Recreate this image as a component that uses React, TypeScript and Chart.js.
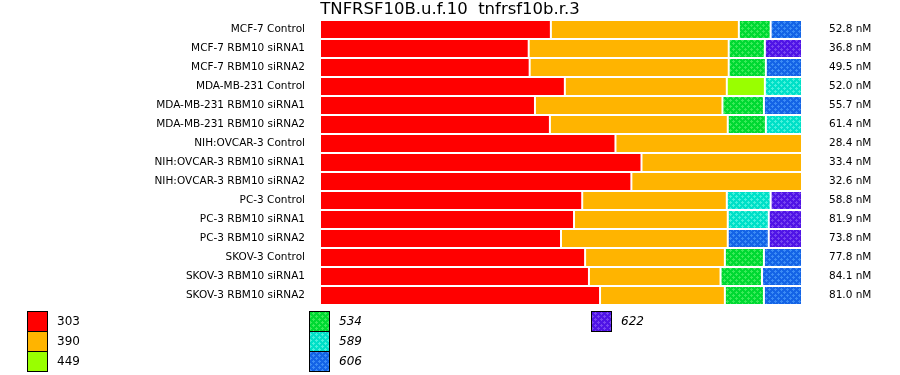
import React, { useEffect, useRef } from 'react';
import { Chart, registerables } from 'chart.js';
Chart.register(...registerables);

const chartTitle = 'TNFRSF10B.u.f.10  tnfrsf10b.r.3';

const samples = [
  'MCF-7 Control',
  'MCF-7 RBM10 siRNA1',
  'MCF-7 RBM10 siRNA2',
  'MDA-MB-231 Control',
  'MDA-MB-231 RBM10 siRNA1',
  'MDA-MB-231 RBM10 siRNA2',
  'NIH:OVCAR-3 Control',
  'NIH:OVCAR-3 RBM10 siRNA1',
  'NIH:OVCAR-3 RBM10 siRNA2',
  'PC-3 Control',
  'PC-3 RBM10 siRNA1',
  'PC-3 RBM10 siRNA2',
  'SKOV-3 Control',
  'SKOV-3 RBM10 siRNA1',
  'SKOV-3 RBM10 siRNA2',
];

const concentrations = [
  '52.8 nM', '36.8 nM', '49.5 nM', '52.0 nM', '55.7 nM', '61.4 nM', '28.4 nM',
  '33.4 nM', '32.6 nM', '58.8 nM', '81.9 nM', '73.8 nM', '77.8 nM', '84.1 nM', '81.0 nM',
];

const seriesNames = ['303', '390', '449', '534', '589', '606', '622'];

const s303 = [47.9, 43.3, 43.5, 50.8, 44.6, 47.7, 61.3, 66.7, 64.6, 54.4, 52.7, 50.0, 55.0, 55.8, 58.1];
const s390 = [39.0, 41.5, 41.3, 33.6, 38.9, 36.9, 38.7, 33.3, 35.4, 30.0, 31.9, 34.6, 29.0, 27.3, 25.9];
const s449 = [null, null, null, 7.9, null, null, null, null, null, null, null, null, null, null, null];
const s534 = [6.6, 7.5, 7.7, null, 8.6, 7.9, null, null, null, null, null, null, 8.1, 8.6, 8.1];
const s589 = [null, null, null, 7.7, null, 7.5, null, null, null, 9.1, 8.5, null, null, null, null];
const s606 = [6.5, null, 7.5, null, 7.9, null, null, null, null, null, null, 8.5, 7.9, 8.3, 7.9];
const s622 = [null, 7.7, null, null, null, null, null, null, null, 6.5, 6.9, 6.9, null, null, null];

const seriesValues = [s303, s390, s449, s534, s589, s606, s622];

// base colour, dot colour (null = solid), italic legend label
const seriesStyles: [string, string | null, boolean][] = [
  ['#FF0000', null, false],
  ['#FFB400', null, false],
  ['#99FF00', null, false],
  ['#00D932', '#3CEB5A', true],
  ['#00E0C8', '#48F2DC', true],
  ['#1464E6', '#3C8CF5', true],
  ['#5014E6', '#7846F0', true],
];

function makePattern(ctx: CanvasRenderingContext2D, base: string, dot: string | null) {
  if (!dot) return base;
  const c = document.createElement('canvas');
  c.width = 6;
  c.height = 6;
  const g = c.getContext('2d')!;
  g.fillStyle = base;
  g.fillRect(0, 0, 6, 6);
  g.fillStyle = dot;
  const plus = (x: number, y: number) => {
    g.fillRect(x - 1, y, 3, 1);
    g.fillRect(x, y - 1, 1, 3);
  };
  plus(1, 1);
  plus(4, 4);
  return ctx.createPattern(c, 'repeat') as CanvasPattern;
}

const zeroPad = (s: any, w: number) => {
  s.width = w;
  s.paddingTop = 0;
  s.paddingBottom = 0;
};

export default function App() {
  const ref = useRef<HTMLCanvasElement>(null);
  useEffect(() => {
    const canvas = ref.current!;
    const ctx = canvas.getContext('2d')!;
    const fills = seriesStyles.map(([b, d]) => makePattern(ctx, b, d));

    const legendPlugin = {
      id: 'customLegend',
      afterDraw(chart: any) {
        const c = chart.ctx as CanvasRenderingContext2D;
        c.save();
        const cols = [27, 309, 591];
        seriesNames.forEach((name, i) => {
          const col = Math.floor(i / 3);
          const row = i % 3;
          const x = cols[col];
          const y = 311 + row * 20;
          c.fillStyle = fills[i] as any;
          c.fillRect(x, y, 20, 20);
          c.strokeStyle = '#000';
          c.lineWidth = 1;
          c.strokeRect(x + 0.5, y + 0.5, 20, 20);
          c.fillStyle = '#000';
          c.font = (seriesStyles[i][2] ? 'italic ' : '') + '12px "DejaVu Sans"';
          c.textAlign = 'left';
          c.textBaseline = 'middle';
          c.fillText(name, x + 30, y + 10.5);
        });
        c.restore();
      },
    };

    const chart = new Chart(canvas, {
      type: 'bar',
      data: {
        labels: samples,
        datasets: seriesNames.map((name, i) => ({
          label: name,
          data: seriesValues[i] as any,
          backgroundColor: fills[i] as any,
          borderColor: '#FFFFFF',
          borderWidth: 1,
          borderSkipped: false,
          inflateAmount: 0,
          barPercentage: 1,
          categoryPercentage: 1,
          yAxisID: 'y',
        })),
      },
      options: {
        indexAxis: 'y',
        animation: false,
        responsive: false,
        events: [],
        layout: { padding: { top: 0, bottom: 70, left: 0, right: 0 } },
        plugins: {
          legend: { display: false },
          tooltip: { enabled: false },
          title: {
            display: true,
            text: chartTitle,
            color: '#000',
            font: { family: '"DejaVu Sans"', size: 16.5, weight: 'normal', lineHeight: 1.2 },
            padding: { top: 0, bottom: 0.2 },
          },
        },
        scales: {
          x: { stacked: true, min: 0, max: 100, display: false },
          y: {
            type: 'category',
            position: 'left',
            stacked: true,
            grid: { display: false, drawTicks: false },
            border: { display: false },
            ticks: {
              color: '#000',
              font: { family: '"DejaVu Sans"', size: 10.5 },
              padding: 15,
              autoSkip: false,
            },
            afterFit: (s: any) => zeroPad(s, 320),
          },
          y2: {
            type: 'category',
            labels: concentrations,
            position: 'right',
            grid: { display: false, drawTicks: false },
            border: { display: false },
            ticks: {
              color: '#000',
              font: { family: '"DejaVu Sans"', size: 10.5 },
              padding: 27,
              autoSkip: false,
            },
            afterFit: (s: any) => zeroPad(s, 98),
          },
        },
      } as any,
      plugins: [legendPlugin],
    });
    return () => chart.destroy();
  }, []);
  return (
    <div style={{ position: 'absolute', left: 0, top: 0, width: 900, height: 375, background: '#fff' }}>
      <canvas ref={ref} width={900} height={375} style={{ width: 900, height: 375, display: 'block' }} />
    </div>
  );
}
